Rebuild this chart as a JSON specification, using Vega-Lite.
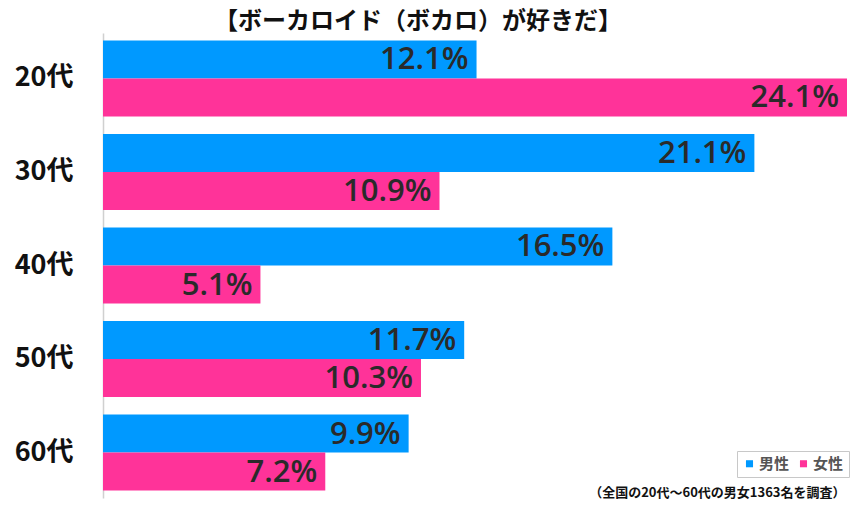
{
  "$schema": "https://vega.github.io/schema/vega-lite/v6.json",
  "width": 744,
  "height": 465,
  "autosize": {"type": "none"},
  "padding": {"left": 103, "top": 33, "right": 12, "bottom": 10},
  "background": "white",
  "title": {
    "text": "【ボーカロイド（ボカロ）が好きだ】",
    "font": "Noto Sans CJK JP",
    "fontSize": 24,
    "fontWeight": "bold",
    "color": "#111",
    "anchor": "middle",
    "frame": "group",
    "dx": -57,
    "offset": -1
  },
  "data": {
    "values": [
      {"age": "20代", "sex": "男性", "value": 12.1},
      {"age": "20代", "sex": "女性", "value": 24.1},
      {"age": "30代", "sex": "男性", "value": 21.1},
      {"age": "30代", "sex": "女性", "value": 10.9},
      {"age": "40代", "sex": "男性", "value": 16.5},
      {"age": "40代", "sex": "女性", "value": 5.1},
      {"age": "50代", "sex": "男性", "value": 11.7},
      {"age": "50代", "sex": "女性", "value": 10.3},
      {"age": "60代", "sex": "男性", "value": 9.9},
      {"age": "60代", "sex": "女性", "value": 7.2}
    ]
  },
  "encoding": {
    "y": {
      "field": "age",
      "type": "nominal",
      "sort": ["20代", "30代", "40代", "50代", "60代"],
      "scale": {"paddingInner": 0.187, "paddingOuter": 0.08},
      "axis": {
        "title": null,
        "ticks": false,
        "domainColor": "#d0d0d0",
        "domainWidth": 1.5,
        "labelFont": "Noto Sans CJK JP",
        "labelFontSize": 27,
        "labelFontWeight": "bold",
        "labelColor": "#111",
        "labelPadding": 30
      }
    },
    "yOffset": {
      "field": "sex",
      "type": "nominal",
      "sort": ["男性", "女性"],
      "scale": {"paddingInner": 0, "paddingOuter": 0}
    },
    "x": {
      "field": "value",
      "type": "quantitative",
      "scale": {"domain": [0, 24.1], "nice": false},
      "axis": {
        "grid": false,
        "labels": false,
        "ticks": false,
        "domain": false,
        "title": "（全国の20代〜60代の男女1363名を調査）",
        "titleFont": "Noto Sans CJK JP",
        "titleFontSize": 13,
        "titleFontWeight": "bold",
        "titleColor": "#111",
        "titleAnchor": "end",
        "titleAlign": "right",
        "titleBaseline": "middle",
        "titleX": 742,
        "titleY": -6
      }
    }
  },
  "layer": [
    {
      "mark": {"type": "bar"},
      "encoding": {
        "color": {
          "field": "sex",
          "type": "nominal",
          "scale": {"domain": ["男性", "女性"], "range": ["#0099ff", "#ff3399"]},
          "legend": {
            "title": null,
            "orient": "none",
            "legendX": 634,
            "legendY": 418,
            "direction": "horizontal",
            "symbolType": "square",
            "symbolSize": 50,
            "symbolOffset": 0,
            "labelFont": "Noto Sans CJK JP",
            "labelFontSize": 15,
            "labelFontWeight": "bold",
            "labelColor": "#555",
            "labelOffset": 2,
            "columnPadding": 6,
            "padding": 5,
            "strokeColor": "#c8c8c8",
            "fillColor": "white"
          }
        }
      }
    },
    {
      "transform": [{"calculate": "format(datum.value, '.1f') + '%'", "as": "label"}],
      "mark": {
        "type": "text",
        "align": "right",
        "baseline": "middle",
        "dx": -8,
        "dy": 1,
        "font": "Open Sans",
        "fontSize": 31,
        "fontWeight": 600,
        "color": "#2a2a2a"
      },
      "encoding": {
        "text": {"field": "label", "type": "nominal"}
      }
    }
  ],
  "config": {
    "view": {"stroke": null}
  }
}
